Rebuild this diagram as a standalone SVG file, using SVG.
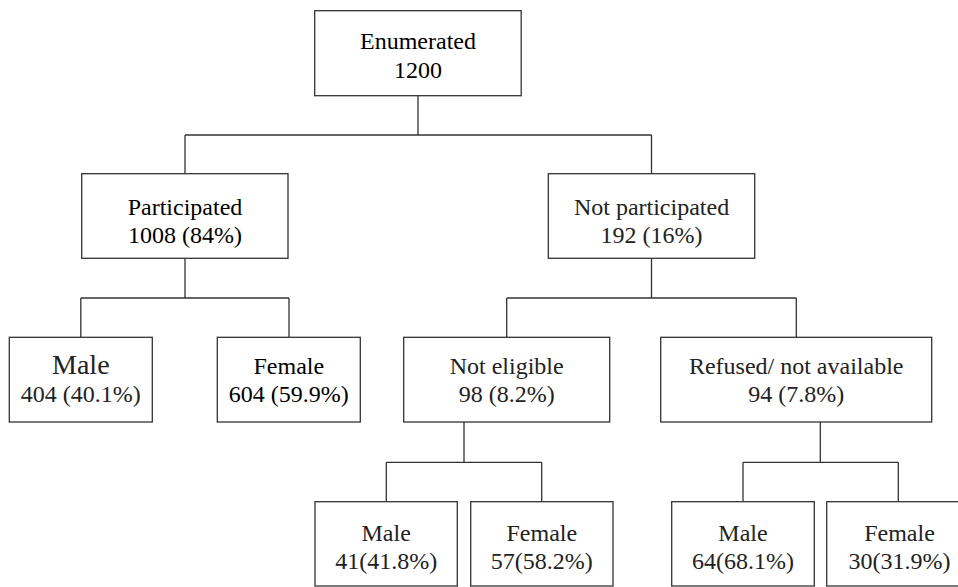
<svg xmlns="http://www.w3.org/2000/svg" width="958" height="587" viewBox="0 0 958 587">
<rect width="958" height="587" fill="#fff"/>
<g id="connectors" fill="none" stroke="#333" stroke-width="1.3">
<path d="M418 96V135M185 135H651.5M185 135V174M651.5 135V174"/>
<path d="M185 258V298M80.8 298H289M80.8 298V337.3M289 298V337.3"/>
<path d="M651.5 258V298M506.7 298H796.3M506.7 298V337.3M796.3 298V337.3"/>
<path d="M464 422V462.3M386.3 462.3H541.7M386.3 462.3V501.7M541.7 462.3V501.7"/>
<path d="M820.3 422V462.3M743 462.3H898.3M743 462.3V501.7M898.3 462.3V501.7"/>
</g>
<g id="enumerated"><rect x="314.7" y="10.7" width="206.5" height="85" fill="#fff" stroke="#333" stroke-width="1.3"/><text x="418" y="49.3" font-family="Liberation Serif" font-size="24" text-anchor="middle">Enumerated</text><text x="418" y="77.7" font-family="Liberation Serif" font-size="24" text-anchor="middle">1200</text></g>
<g id="participated"><rect x="81.7" y="173.7" width="206.3" height="84.6" fill="#fff" stroke="#333" stroke-width="1.3"/><text x="127.7" y="215" font-family="Liberation Serif" font-size="24">Participated</text><text x="128" y="242.7" font-family="Liberation Serif" font-size="24">1008 (84%)</text></g>
<g id="not-participated"><rect x="548.3" y="173.7" width="206.4" height="84.6" fill="#fff" stroke="#333" stroke-width="1.3"/><text x="573.9" y="215" font-family="Liberation Serif" font-size="24" fill="#222">Not participated</text><text x="600.5" y="242.7" font-family="Liberation Serif" font-size="24" fill="#222">192 (16%)</text></g>
<g id="male-p"><rect x="9.3" y="337.3" width="143" height="84.7" fill="#fff" stroke="#333" stroke-width="1.3"/><text x="80.8" y="374" font-family="Liberation Serif" font-size="28" text-anchor="middle" fill="#222">Male</text><text x="80.8" y="402.3" font-family="Liberation Serif" font-size="24" text-anchor="middle" fill="#222">404 (40.1%)</text></g>
<g id="female-p"><rect x="217.3" y="337.3" width="143" height="84.7" fill="#fff" stroke="#333" stroke-width="1.3"/></g>
<text x="253.5" y="374" font-family="Liberation Serif" font-size="24">Female</text><text x="228.8" y="402.3" font-family="Liberation Serif" font-size="24">604 (59.9%)</text>
<g id="not-eligible"><rect x="403.7" y="337.3" width="206" height="84.7" fill="#fff" stroke="#333" stroke-width="1.3"/><text x="506.7" y="374" font-family="'Liberation Serif', serif" font-size="24" text-anchor="middle" fill="#222">Not eligible</text><text x="506.7" y="402.3" font-family="'Liberation Serif', serif" font-size="24" text-anchor="middle" fill="#222">98 (8.2%)</text></g>
<g id="refused"><rect x="660.7" y="337.3" width="271" height="84.7" fill="#fff" stroke="#333" stroke-width="1.3"/><text x="796.2" y="374" font-family="Times New Roman" font-size="24" text-anchor="middle" fill="#222">Refused/ not available</text><text x="796.2" y="402.3" font-family="Times New Roman" font-size="24" text-anchor="middle" fill="#222">94 (7.8%)</text></g>
<g id="male-ne"><rect x="315" y="501.7" width="142.3" height="84.3" fill="#fff" stroke="#333" stroke-width="1.3"/><text x="386.2" y="540.7" font-family="serif" font-size="24" text-anchor="middle" fill="#222">Male</text><text x="386.2" y="569" font-family="serif" font-size="24" text-anchor="middle" fill="#222">41(41.8%)</text></g>
<g id="female-ne"><rect x="470.7" y="501.7" width="142.3" height="84.3" fill="#fff" stroke="#333" stroke-width="1.3"/><text x="541.8" y="540.7" font-family="Tinos" font-size="24" text-anchor="middle" fill="#222">Female</text><text x="541.8" y="569" font-family="Tinos" font-size="24" text-anchor="middle" fill="#222">57(58.2%)</text></g>
<g id="male-r"><rect x="671.7" y="501.7" width="142.6" height="84.3" fill="#fff" stroke="#333" stroke-width="1.3"/><text x="743" y="540.7" font-family="Liberation Serif" font-size="24" text-anchor="middle" fill="#222">Male</text><text x="743" y="569" font-family="Liberation Serif" font-size="24" text-anchor="middle" fill="#222">64(68.1%)</text></g>
<g id="female-r"><rect x="826.7" y="501.7" width="143" height="84.3" fill="#fff" stroke="#333" stroke-width="1.3"/><text x="899.5" y="540.7" font-family="Liberation Serif" font-size="24" text-anchor="middle" fill="#222">Female</text><text x="899.5" y="569" font-family="Liberation Serif" font-size="24" text-anchor="middle" fill="#222">30(31.9%)</text></g>
</svg>
